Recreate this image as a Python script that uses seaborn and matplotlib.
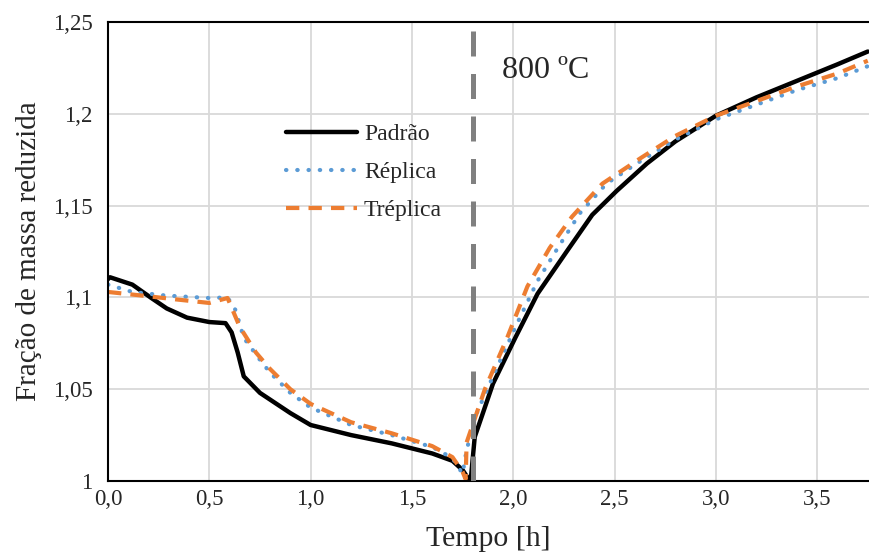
import pandas as pd
import numpy as np
import matplotlib.pyplot as plt
import seaborn as sns
from matplotlib.ticker import FuncFormatter, MultipleLocator

sns.set_style("whitegrid")
plt.rcParams['font.family'] = ['Liberation Serif', 'DejaVu Serif']

# tempo [h] e fração de massa reduzida
t_padrao = [0.0, 0.01, 0.12, 0.21, 0.29, 0.39, 0.5, 0.58, 0.61, 0.64, 0.67, 0.75, 0.9, 1.0,
            1.2, 1.4, 1.6, 1.7, 1.75, 1.78, 1.79, 1.8, 1.81, 1.9, 2.01, 2.12, 2.27, 2.39,
            2.51, 2.66, 2.8, 3.0, 3.2, 3.4, 3.6, 3.75]
m_padrao = [1.110, 1.111, 1.107, 1.100, 1.094, 1.089, 1.0866, 1.086, 1.081, 1.070, 1.057,
            1.048, 1.037, 1.0305, 1.025, 1.0205, 1.015, 1.011, 1.006, 1.001, 1.000, 1.012,
            1.024, 1.053, 1.078, 1.102, 1.126, 1.145, 1.158, 1.173, 1.185, 1.199, 1.209,
            1.218, 1.227, 1.234]

t_replica = [0.0, 0.12, 0.29, 0.5, 0.59, 0.63, 0.67, 0.75, 0.8, 0.9, 1.0, 1.2, 1.4, 1.6,
             1.7, 1.75, 1.77, 1.82, 1.9, 2.02, 2.12, 2.22, 2.33, 2.46, 2.61, 2.8, 3.0, 3.2,
             3.4, 3.6, 3.75]
m_replica = [1.107, 1.103, 1.101, 1.0997, 1.100, 1.093, 1.078, 1.066, 1.059, 1.048, 1.040,
             1.0305, 1.025, 1.0185, 1.0125, 1.004, 1.017, 1.037, 1.057, 1.086, 1.109, 1.127,
             1.146, 1.162, 1.173, 1.186, 1.197, 1.205, 1.213, 1.2195, 1.226]

t_treplica = [0.0, 0.17, 0.33, 0.5, 0.59, 0.65, 0.73, 0.8, 0.9, 1.0, 1.2, 1.4, 1.6, 1.7,
              1.75, 1.765, 1.77, 1.86, 1.97, 2.07, 2.18, 2.29, 2.44, 2.63, 2.8, 3.0, 3.2,
              3.4, 3.6, 3.75]
m_treplica = [1.103, 1.101, 1.099, 1.097, 1.0997, 1.084, 1.070, 1.061, 1.050, 1.042, 1.032,
              1.026, 1.019, 1.013, 1.005, 1.001, 1.021, 1.050, 1.078, 1.106, 1.127, 1.144,
              1.162, 1.176, 1.188, 1.199, 1.207, 1.215, 1.222, 1.229]

t_800 = 1.80

fig = plt.figure(figsize=(8.69, 5.54), dpi=100)
ax = fig.add_axes([0.1243, 0.1318, 0.8757, 0.8282])

sns.lineplot(x=t_padrao, y=m_padrao, ax=ax, color='black', linewidth=3.2, label='Padrão')
sns.lineplot(x=t_replica, y=m_replica, ax=ax, color='#5b9bd5', linewidth=3.0,
             linestyle=(0, (0.1, 2.6)), dash_capstyle='round', label='Réplica')
sns.lineplot(x=t_treplica, y=m_treplica, ax=ax, color='#ed7d31', linewidth=3.0,
             linestyle=(0, (3.2, 2.2)), label='Tréplica')
ax.axvline(t_800, color='#808080', linewidth=3.6, linestyle=(0, (5, 3.5)), zorder=4)
ax.text(1.945, 1.2195, '800 ºC', fontsize=23, va='baseline')

ax.set_xlim(0, 3.756)
ax.set_ylim(1.0, 1.25)
ax.xaxis.set_major_locator(MultipleLocator(0.5))
ax.yaxis.set_major_locator(MultipleLocator(0.05))
ax.xaxis.set_major_formatter(FuncFormatter(lambda v, p: f'{v:.1f}'.replace('.', ',')))
ax.yaxis.set_major_formatter(FuncFormatter(lambda v, p: f'{v:g}'.replace('.', ',')))
ax.tick_params(labelsize=16.5, length=0)
ax.tick_params(axis='y', pad=11)
ax.tick_params(axis='x', pad=6)
ax.grid(True, color='#d9d9d9', linewidth=1.3)
ax.set_xlabel('Tempo [h]', fontsize=21.5, labelpad=11)
ax.set_ylabel('Fração de massa reduzida', fontsize=21, labelpad=8)

ax.spines['right'].set_visible(False)
for s in ['left', 'bottom', 'top']:
    ax.spines[s].set_color('black')
    ax.spines[s].set_linewidth(1.5)

leg = ax.legend(loc='upper left', bbox_to_anchor=(0.206, 0.825), frameon=False, fontsize=17,
                handlelength=3.0, handletextpad=0.3, labelspacing=0.7)

fig.savefig('out.png', dpi=100)
